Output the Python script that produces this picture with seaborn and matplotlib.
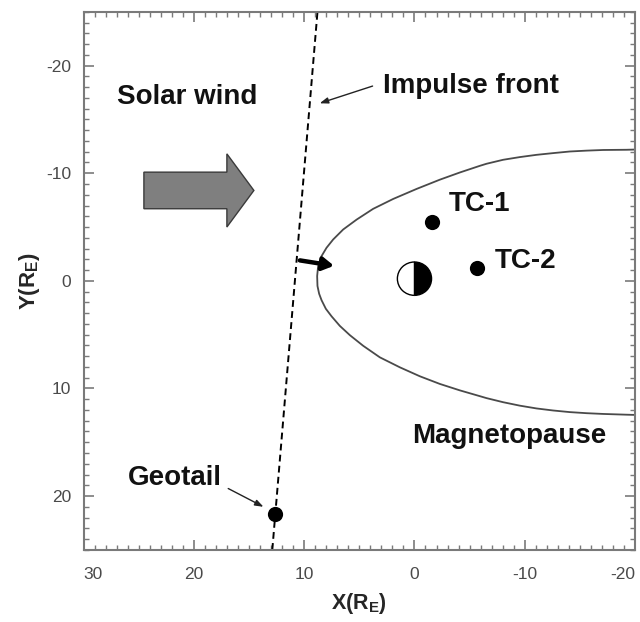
import numpy as np
import pandas as pd
import matplotlib
matplotlib.use("Agg")
import matplotlib.pyplot as plt
from matplotlib.patches import Wedge, FancyArrow
import seaborn as sns

# ---------------- data (Earth radii) ----------------
# Magnetopause boundary: top flank -> nose -> bottom flank
mp_x = [-20.0, -19.25, -17.12, -15.62, -14.10, -12.59, -11.08, -9.56, -8.05, -6.54,
        -5.94, -4.12, -2.30, -0.19, 1.93, 3.75, 5.25, 6.47, 7.38, 7.98, 8.43, 8.74,
        8.83, 8.80, 8.65, 8.43, 8.04, 7.52, 6.77, 5.86, 4.65, 3.14, 1.32, -0.49,
        -2.30, -4.12, -5.94, -6.54, -8.05, -9.56, -11.08, -12.59, -14.10, -15.62,
        -17.12, -19.25, -20.0]
mp_y = [-12.2, -12.18, -12.16, -12.10, -12.02, -11.87, -11.71, -11.50, -11.25, -10.88,
        -10.69, -10.07, -9.40, -8.54, -7.61, -6.69, -5.69, -4.77, -3.84, -3.07, -2.3, -1.37,
        -0.44, 0.48, 1.2, 1.8, 2.6, 3.3, 4.19, 5.05, 6.04, 7.11, 8.04, 8.87,
        9.58, 10.18, 10.72, 10.90, 11.28, 11.60, 11.86, 12.05, 12.20, 12.30,
        12.37, 12.44, 12.46]

# Impulse front (dashed line) end points
front_x = [12.9, 8.8]
front_y = [25.0, -25.0]

# Spacecraft positions
sc_names = ["Geotail", "TC-1", "TC-2"]
sc_x = [12.67, -1.55, -5.7]
sc_y = [21.7, -5.5, -1.2]

# Earth
earth_x, earth_y, earth_r = 0.0, -0.2, 1.55

# Axis ticks
xticks = [30, 20, 10, 0, -10, -20]
yticks = [-20, -10, 0, 10, 20]

# ---------------- style ----------------
sns.set_style("ticks")
plt.rcParams["font.family"] = ["Liberation Sans", "DejaVu Sans"]
plt.rcParams["axes.unicode_minus"] = False
plt.rcParams["mathtext.fontset"] = "custom"
plt.rcParams["mathtext.bf"] = "Liberation Sans:bold"
plt.rcParams["mathtext.rm"] = "Liberation Sans"
plt.rcParams["mathtext.default"] = "bf"

fig = plt.figure(figsize=(6.4, 6.22), dpi=100)
ax = fig.add_axes([0.131, 0.116, 0.861, 0.865])

# magnetopause
mp = pd.DataFrame({"x": mp_x, "y": mp_y})
sns.lineplot(data=mp, x="x", y="y", sort=False, estimator=None, ax=ax,
             color="#4a4a4a", lw=1.3, zorder=2, solid_joinstyle="round")

# impulse front
sns.lineplot(x=front_x, y=front_y, sort=False, estimator=None, ax=ax,
             color="black", lw=1.4, linestyle=(0, (3.5, 2.2)), zorder=2)

# spacecraft
sc = pd.DataFrame({"x": sc_x, "y": sc_y, "name": sc_names})
sns.scatterplot(data=sc, x="x", y="y", ax=ax, color="black", s=120,
                edgecolor="black", linewidth=0, zorder=4, legend=False)

# Earth (day side white, night side black)
ax.add_patch(Wedge((earth_x, earth_y), earth_r, 90, 270, facecolor="black",
                   edgecolor="black", lw=1.0, zorder=4))
ax.add_patch(Wedge((earth_x, earth_y), earth_r, -90, 90, facecolor="white",
                   edgecolor="black", lw=1.0, zorder=4))

# big solar wind arrow
ax.add_patch(FancyArrow(24.55, -8.4, -9.98, 0, width=3.4, head_width=6.8,
                        head_length=2.45, length_includes_head=True,
                        facecolor="#7f7f7f", edgecolor="#3a3a3a", lw=1.0, zorder=3))

# small thick arrow at magnetopause nose
ax.annotate("", xy=(7.3, -1.4), xytext=(10.4, -1.9),
            arrowprops=dict(arrowstyle="-|>,head_length=0.65,head_width=0.38",
                            color="black", lw=3.2, shrinkA=0, shrinkB=0), zorder=5)

lab = dict(fontsize=20, fontweight="bold", color="#111111", va="center", ha="left")
ax.text(27.0, -17.1, "Solar wind", **lab)
ax.text(2.9, -18.1, "Impulse front", **lab)
ax.text(-3.1, -7.1, "TC-1", **lab)
ax.text(-7.3, -1.8, "TC-2", **lab)
ax.text(0.2, 14.4, "Magnetopause", **lab)
ax.text(21.7, 18.3, "Geotail", fontsize=20, fontweight="bold", color="#111111",
        va="center", ha="center")

# pointer arrows
ax.annotate("", xy=(8.6, -16.5), xytext=(3.8, -18.1),
            arrowprops=dict(arrowstyle="-|>,head_length=0.5,head_width=0.18",
                            color="#222222", lw=1.0, shrinkA=0, shrinkB=0))
ax.annotate("", xy=(13.7, 21.0), xytext=(16.9, 19.3),
            arrowprops=dict(arrowstyle="-|>,head_length=0.5,head_width=0.18",
                            color="#222222", lw=1.0, shrinkA=0, shrinkB=0))

# axes
ax.set_xlim(30, -20)
ax.set_ylim(25, -25)
ax.set_xticks(xticks)
ax.set_yticks(yticks)
ax.set_xticks(np.arange(-20, 31, 1), minor=True)
ax.set_yticks(np.arange(-25, 26, 1), minor=True)
ax.tick_params(which="both", direction="in", top=True, right=True, color="#7a7a7a")
ax.tick_params(which="major", length=7, width=1.2, labelsize=12.5, labelcolor="#4a4a4a")
ax.tick_params(which="minor", length=3.5, width=1.0)
ax.tick_params(axis="x", which="major", pad=12)
ax.tick_params(axis="y", which="major", pad=9)
for s in ax.spines.values():
    s.set_color("#7a7a7a")
    s.set_linewidth(1.5)

xl = ax.get_xticklabels()
xl[0].set_horizontalalignment("left")
xl[-1].set_horizontalalignment("right")

ax.set_xlabel("X(R$_{E}$)", fontsize=15.5, fontweight="bold", labelpad=7)
ax.set_ylabel("Y(R$_{E}$)", fontsize=16, fontweight="bold", labelpad=3)

fig.savefig("out.png", dpi=100)
